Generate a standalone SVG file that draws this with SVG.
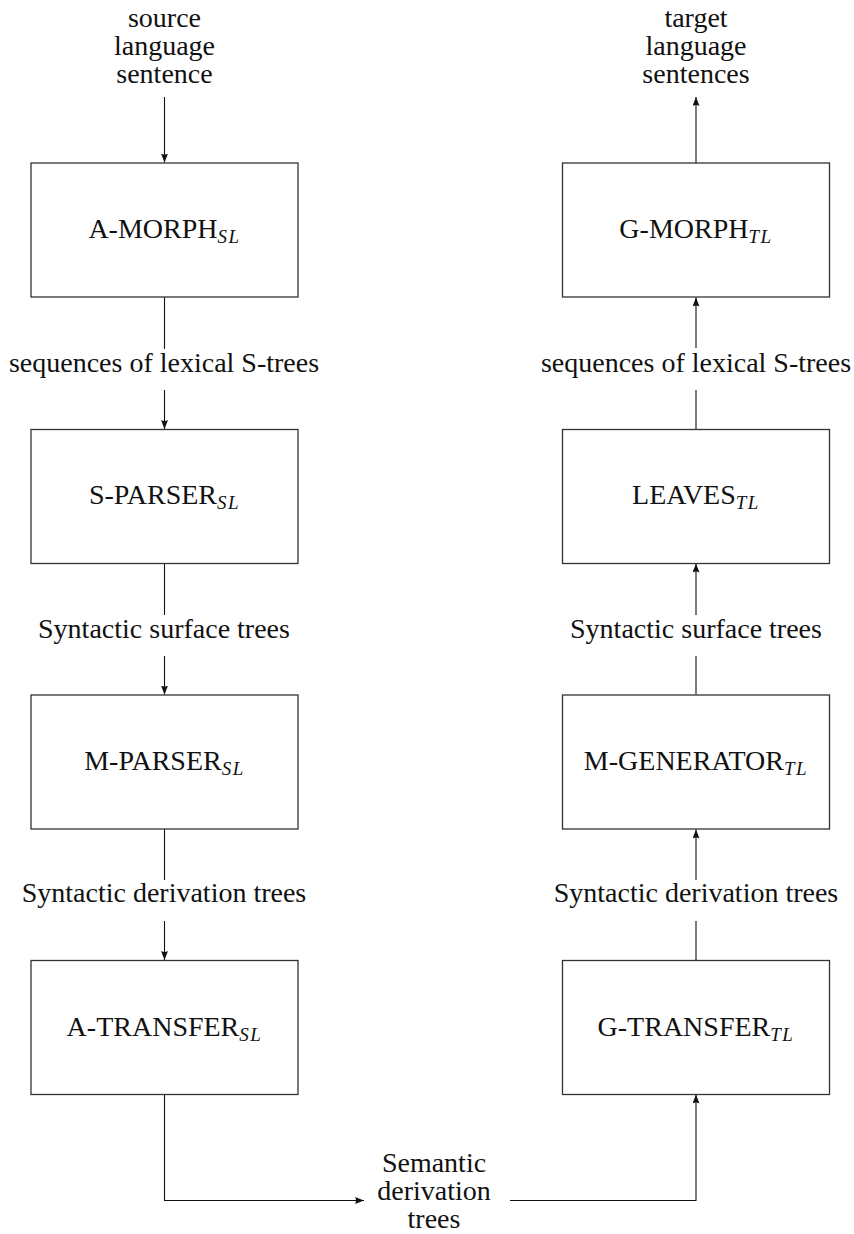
<svg xmlns="http://www.w3.org/2000/svg" width="854" height="1234" viewBox="0 0 854 1234" font-family="'Liberation Serif', 'DejaVu Serif', serif">
  <style>
    .box { fill: #fff; stroke: #333; stroke-width: 1.3; }
    .lbl { font-family: 'Liberation Serif', 'DejaVu Serif', serif; font-size: 28px; fill: #111; text-anchor: middle; }
    .sub { font-style: italic; font-size: 19px; letter-spacing: 1.5px; }
    .wire { fill: none; stroke: #111; stroke-width: 1.1; }
  </style>
  <defs>
    <marker id="tip" viewBox="0 0 9 7" refX="9" refY="3.5" markerWidth="9" markerHeight="7" markerUnits="userSpaceOnUse" orient="auto">
      <path d="M0,0 L9,3.5 L0,7 Q2,3.5 0,0 Z" fill="#111"/>
    </marker>
  </defs>

  <rect width="854" height="1234" fill="#fff"/>

  <!-- edges: analysis column runs downward, generation column upward -->
  <g id="connectors">
    <path class="wire" d="M164.5,97 V162.5" marker-end="url(#tip)"/>
    <path class="wire" d="M164.5,297 V349"/>
    <path class="wire" d="M164.5,390 V429" marker-end="url(#tip)"/>
    <path class="wire" d="M164.5,563 V615"/>
    <path class="wire" d="M164.5,656 V694.5" marker-end="url(#tip)"/>
    <path class="wire" d="M164.5,829 V880"/>
    <path class="wire" d="M164.5,921 V960" marker-end="url(#tip)"/>
    <path class="wire" d="M164.5,1094 V1200.5 H364" marker-end="url(#tip)"/>

    <path class="wire" d="M510,1200.5 H696 V1094.5" marker-end="url(#tip)"/>
    <path class="wire" d="M696,960 V921"/>
    <path class="wire" d="M696,880 V829.5" marker-end="url(#tip)"/>
    <path class="wire" d="M696,694.5 V656"/>
    <path class="wire" d="M696,615 V563.5" marker-end="url(#tip)"/>
    <path class="wire" d="M696,429 V390"/>
    <path class="wire" d="M696,348 V297.5" marker-end="url(#tip)"/>
    <path class="wire" d="M696,163 V97" marker-end="url(#tip)"/>
  </g>

  <!-- analysis side (source language) -->
  <g id="a-morph">
    <rect class="box" x="31" y="163" width="267" height="134"/>
    <text class="lbl" x="164.5" y="238">A-MORPH<tspan class="sub" dy="5">SL</tspan></text>
  </g>
  <g id="s-parser">
    <rect class="box" x="31" y="429.5" width="267" height="134"/>
    <text class="lbl" x="164.5" y="504">S-PARSER<tspan class="sub" dy="5">SL</tspan></text>
  </g>
  <g id="m-parser">
    <rect class="box" x="31" y="695" width="267" height="134"/>
    <text class="lbl" x="164.5" y="770">M-PARSER<tspan class="sub" dy="5">SL</tspan></text>
  </g>
  <g id="a-transfer">
    <rect class="box" x="31" y="960.5" width="267" height="134"/>
    <text class="lbl" x="164.5" y="1036">A-TRANSFER<tspan class="sub" dy="5">SL</tspan></text>
  </g>

  <!-- generation side (target language) -->
  <g id="g-morph">
    <rect class="box" x="562.5" y="163" width="267" height="134"/>
    <text class="lbl" x="696" y="238">G-MORPH<tspan class="sub" dy="5">TL</tspan></text>
  </g>
  <g id="leaves">
    <rect class="box" x="562.5" y="429.5" width="267" height="134"/>
    <text class="lbl" x="696" y="504">LEAVES<tspan class="sub" dy="5">TL</tspan></text>
  </g>
  <g id="m-generator">
    <rect class="box" x="562.5" y="695" width="267" height="134"/>
    <text class="lbl" x="696" y="770">M-GENERATOR<tspan class="sub" dy="5">TL</tspan></text>
  </g>
  <g id="g-transfer">
    <rect class="box" x="562.5" y="960.5" width="267" height="134"/>
    <text class="lbl" x="696" y="1036">G-TRANSFER<tspan class="sub" dy="5">TL</tspan></text>
  </g>

  <!-- intermediate representations -->
  <g id="source-sentence">
    <text class="lbl" x="164.5" y="27">source</text>
    <text class="lbl" x="164.5" y="55">language</text>
    <text class="lbl" x="164.5" y="83">sentence</text>
  </g>
  <g id="target-sentences">
    <text class="lbl" x="696" y="27">target</text>
    <text class="lbl" x="696" y="55">language</text>
    <text class="lbl" x="696" y="83">sentences</text>
  </g>
  <g id="lexical-sl"><text class="lbl" x="164" y="372">sequences of lexical S-trees</text></g>
  <g id="surface-sl"><text class="lbl" x="164" y="638">Syntactic surface trees</text></g>
  <g id="derivation-sl"><text class="lbl" x="164" y="902">Syntactic derivation trees</text></g>
  <g id="lexical-tl"><text class="lbl" x="696" y="372">sequences of lexical S-trees</text></g>
  <g id="surface-tl"><text class="lbl" x="696" y="638">Syntactic surface trees</text></g>
  <g id="derivation-tl"><text class="lbl" x="696" y="902">Syntactic derivation trees</text></g>
  <g id="semantic">
    <text class="lbl" x="434" y="1172">Semantic</text>
    <text class="lbl" x="434" y="1200">derivation</text>
    <text class="lbl" x="434" y="1228">trees</text>
  </g>
</svg>
